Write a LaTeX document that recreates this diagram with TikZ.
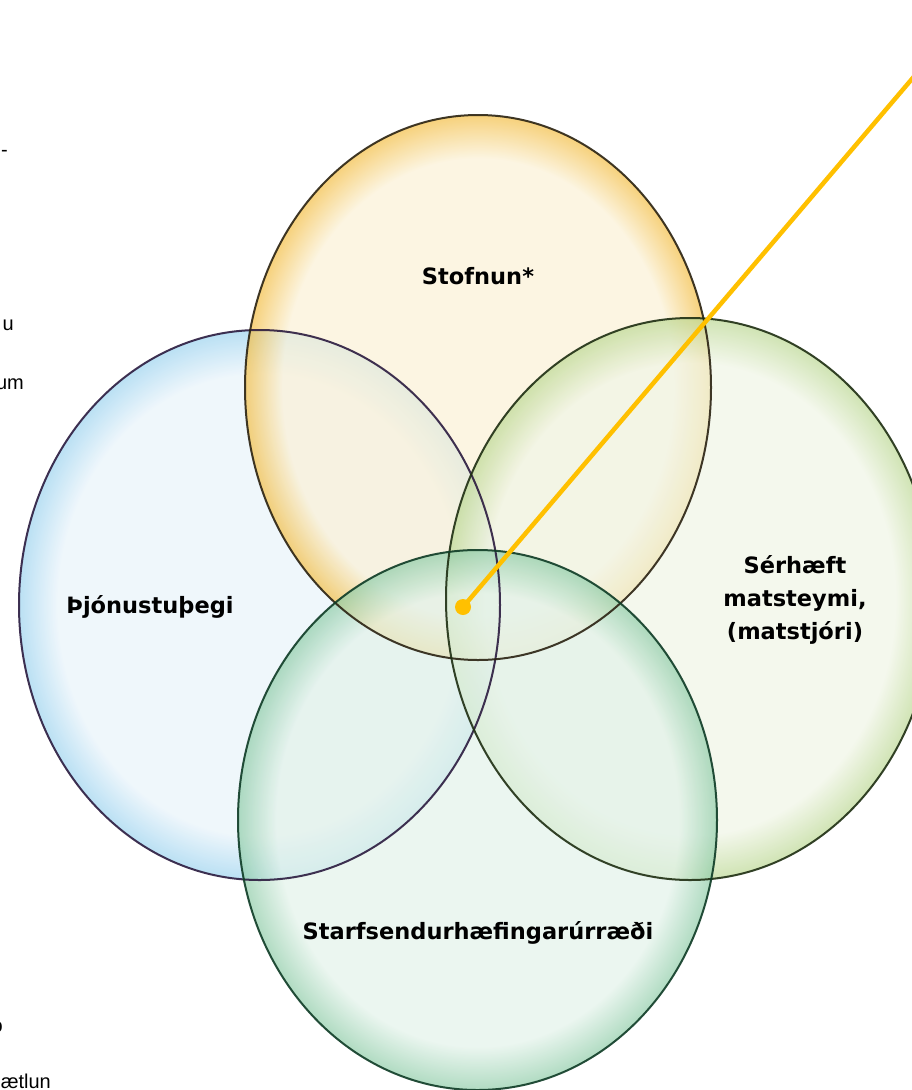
\documentclass[tikz,border=0pt]{standalone}
\usepackage{fontspec}
\setmainfont{Liberation Sans}
\newfontfamily\lblfont{DejaVu Sans}
\definecolor{yin}{HTML}{FBF1D6}
\definecolor{yout}{HTML}{F3BE45}
\definecolor{yline}{HTML}{2A2212}
\definecolor{bin}{HTML}{E8F3FA}
\definecolor{bout}{HTML}{9DD3EF}
\definecolor{bline}{HTML}{2B1B3F}
\definecolor{gin}{HTML}{F0F5E6}
\definecolor{gout}{HTML}{BCD894}
\definecolor{gline}{HTML}{1E2E12}
\definecolor{tin}{HTML}{E2F2E9}
\definecolor{tout}{HTML}{8FCCA8}
\definecolor{tline}{HTML}{0E3B25}
\definecolor{pointer}{HTML}{FFC000}
\pgfdeclareradialshading{yshade}{\pgfpoint{0bp}{0bp}}{color(0bp)=(yin); color(21bp)=(yin); color(25bp)=(yout); color(50bp)=(yout)}
\pgfdeclareradialshading{bshade}{\pgfpoint{0bp}{0bp}}{color(0bp)=(bin); color(21bp)=(bin); color(25bp)=(bout); color(50bp)=(bout)}
\pgfdeclareradialshading{gshade}{\pgfpoint{0bp}{0bp}}{color(0bp)=(gin); color(21bp)=(gin); color(25bp)=(gout); color(50bp)=(gout)}
\pgfdeclareradialshading{tshade}{\pgfpoint{0bp}{0bp}}{color(0bp)=(tin); color(21bp)=(tin); color(25bp)=(tout); color(50bp)=(tout)}
\tikzset{
  bubble/.style={fill opacity=0.7},
  rim/.style={line width=2pt, draw opacity=0.9},
  lbl/.style={font=\lblfont\bfseries\fontsize{22.5}{33}\selectfont, align=center, text=black},
  frag/.style={font=\fontsize{20}{24}\selectfont, anchor=base east, inner sep=0pt},
  pointerline/.style={draw=pointer, line width=4.5pt},
}
\begin{document}
\begin{tikzpicture}[x=1pt,y=-1pt]
\useasboundingbox (0,0) rectangle (911,1090);
% fills
\shade[bubble, shading=bshade] (259.5,605) ellipse [x radius=240.5, y radius=275];
\shade[bubble, shading=yshade] (478,387.5) ellipse [x radius=233, y radius=272.5];
\shade[bubble, shading=gshade] (690,599) ellipse [x radius=244, y radius=281];
\shade[bubble, shading=tshade] (477.5,820) ellipse [x radius=239.5, y radius=270];
% outlines
\draw[rim, draw=bline] (259.5,605) ellipse [x radius=240.5, y radius=275];
\draw[rim, draw=yline] (478,387.5) ellipse [x radius=233, y radius=272.5];
\draw[rim, draw=gline] (690,599) ellipse [x radius=244, y radius=281];
\draw[rim, draw=tline] (477.5,820) ellipse [x radius=239.5, y radius=270];
% labels
\node[lbl] (stofnun) at (478,276) {Stofnun*};
\node[lbl] (thjon) at (150,607) {Þjónustuþegi};
\node[lbl] (serh) at (795,600) {Sérhæft\\matsteymi,\\(matstjóri)};
\node[lbl] (starf) at (478,933) {Starfsendurhæfingarúrræði};
% clipped text fragments at the left edge
\node[frag] (f1) at (8,156) {-};
\node[frag] (f2) at (14,330) {u};
\node[frag] (f3) at (24,389) {um};
\node[frag] (f4) at (3,1032) {o};
\node[frag] (f5) at (51,1088) {ætlun};
% pointer
\node[circle, fill=pointer, inner sep=0pt, minimum size=16pt] (dot) at (463,607) {};
\coordinate (tip) at (925,63.6);
\draw[pointerline] (dot.center) -- (tip);
\end{tikzpicture}
\end{document}
